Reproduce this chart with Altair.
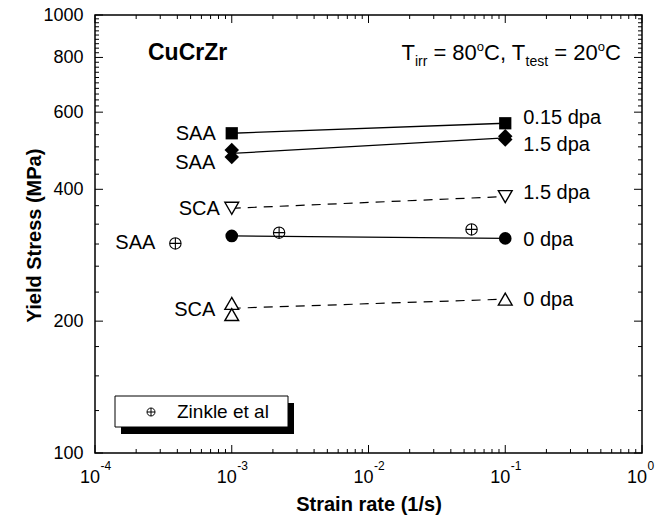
import altair as alt
import pandas as pd

# ---------------- data ----------------
sq_rate = [1e-3, 1e-1]
sq_stress = [537, 566]                      # SAA 0.15 dpa (filled squares)
dia_rate = [1e-3, 1e-3, 1e-1, 1e-1]
dia_stress = [492, 474, 529, 520]           # SAA 1.5 dpa (filled diamonds)
dtri_rate = [1e-3, 1e-1]
dtri_stress = [362, 385]                    # SCA 1.5 dpa (open down triangles)
circ_rate = [1e-3, 1e-1]
circ_stress = [313, 309]                    # SAA 0 dpa (filled circles)
utri_rate = [1e-3, 1e-3, 1e-1]
utri_stress = [219.5, 207, 224.5]           # SCA 0 dpa (open up triangles)
zink_rate = [3.87e-4, 2.22e-3, 5.67e-2]
zink_stress = [301, 318.5, 324]             # Zinkle et al (circle-plus)

solid_series = ["sq", "sq", "dia", "dia", "circ", "circ"]
solid_rate = [1e-3, 1e-1, 1e-3, 1e-1, 1e-3, 1e-1]
solid_stress = [537, 566, 483, 524, 313, 309]
dash_series = ["dtri", "dtri", "utri", "utri"]
dash_rate = [1e-3, 1e-1, 1e-3, 1e-1]
dash_stress = [362, 385, 214, 224.5]

left_labels = ["SAA", "SAA", "SCA", "SAA", "SCA"]
left_label_rate = [1e-3, 1e-3, 1e-3, 3.87e-4, 1e-3]
left_label_stress = [535, 460, 360, 301, 212]
right_labels = ["0.15 dpa", "1.5 dpa", "1.5 dpa", "0 dpa", "0 dpa"]
right_label_rate = [1e-1, 1e-1, 1e-1, 1e-1, 1e-1]
right_label_stress = [581, 505, 392, 306, 224]

x_decades = [1e-4, 1e-3, 1e-2, 1e-1, 1.0]
x_exponents = ["-4", "-3", "-2", "-1", "0"]
x_minor = [m * d for d in [1e-4, 1e-3, 1e-2, 1e-1] for m in range(2, 10)]
y_major = [100, 200, 400, 600, 800, 1000]
y_minor = [125, 150, 175, 233, 267, 300, 333, 367, 433, 467, 500, 533, 567,
           620, 640, 660, 680, 700, 720, 740, 760, 780,
           820, 840, 860, 880, 900, 920, 940, 960, 980]

# ---------------- layout ----------------
W, H = 547, 438
FONT = "Liberation Sans"

xs = alt.Scale(type="log", domain=[1e-4, 1], nice=False)
ys = alt.Scale(type="log", domain=[100, 1000], nice=False)
xaxis = alt.Axis(title="Strain rate (1/s)", labels=False, ticks=False, domain=False,
                 grid=False, titleFontSize=20, titleFont=FONT, titleFontWeight="bold",
                 titleColor="black", titleX=W / 2, titleY=57, titleBaseline="alphabetic",
                 titleAlign="center")
yaxis = alt.Axis(title="Yield Stress (MPa)", values=y_major, format="d", ticks=False,
                 domain=False, grid=False, labelFontSize=18, labelFont=FONT,
                 labelColor="black", labelPadding=12, labelFlush=False, labelOverlap=False,
                 titleFontSize=20, titleFont=FONT, titleFontWeight="bold", titleColor="black",
                 titleX=-55, titleY=H / 2 + 1, titleAngle=270, titleBaseline="alphabetic",
                 titleAlign="center")
X = alt.X("rate:Q", scale=xs, axis=xaxis)
Y = alt.Y("stress:Q", scale=ys, axis=yaxis)


def df(**cols):
    return pd.DataFrame(cols)


layers = []

# connecting lines
layers.append(alt.Chart(df(rate=solid_rate, stress=solid_stress, s=solid_series))
              .mark_line(color="black", strokeWidth=1.3)
              .encode(x=X, y=Y, detail="s:N"))
layers.append(alt.Chart(df(rate=dash_rate, stress=dash_stress, s=dash_series))
              .mark_line(color="black", strokeWidth=1.2, strokeDash=[9, 7])
              .encode(x=X, y=Y, detail="s:N"))

# markers
layers.append(alt.Chart(df(rate=sq_rate, stress=sq_stress))
              .mark_point(shape="square", filled=True, color="black", size=150, opacity=1)
              .encode(x=X, y=Y))
layers.append(alt.Chart(df(rate=dia_rate, stress=dia_stress))
              .mark_point(shape="diamond", filled=True, color="black", size=210, opacity=1)
              .encode(x=X, y=Y))
layers.append(alt.Chart(df(rate=circ_rate, stress=circ_stress))
              .mark_point(shape="circle", filled=True, color="black", size=160, opacity=1)
              .encode(x=X, y=Y))
layers.append(alt.Chart(df(rate=dtri_rate, stress=dtri_stress))
              .mark_point(shape="triangle-down", filled=True, fill="white", stroke="black",
                          strokeWidth=1.4, size=190, opacity=1)
              .encode(x=X, y=Y))
layers.append(alt.Chart(df(rate=utri_rate, stress=utri_stress))
              .mark_point(shape="triangle-up", filled=True, fill="white", stroke="black",
                          strokeWidth=1.4, size=190, opacity=1)
              .encode(x=X, y=Y))
OPLUS = "M-1,0A1,1,0,1,1,1,0A1,1,0,1,1,-1,0ZM-1,0L1,0M0,-1L0,1"
layers.append(alt.Chart(df(rate=zink_rate, stress=zink_stress))
              .mark_point(shape=OPLUS, filled=False, stroke="black", strokeWidth=1.1,
                          size=130, opacity=1)
              .encode(x=X, y=Y))

# data labels
left_dx = [-16, -16.5, -12, -20, -16.5]
for r, s, t, dx in zip(left_label_rate, left_label_stress, left_labels, left_dx):
    layers.append(alt.Chart(df(rate=[r], stress=[s], t=[t]))
                  .mark_text(align="right", baseline="middle", fontSize=20, font=FONT,
                             color="black", dx=dx)
                  .encode(x=X, y=Y, text="t:N"))
layers.append(alt.Chart(df(rate=right_label_rate, stress=right_label_stress, t=right_labels))
              .mark_text(align="left", baseline="middle", fontSize=20, font=FONT,
                         color="black", dx=18)
              .encode(x=X, y=Y, text="t:N"))


# axis ticks (inward) on all four sides
def xticks(vals, length):
    d = df(rate=vals)
    return [
        alt.Chart(d).mark_rule(color="black", strokeWidth=1)
        .encode(x=X, y=alt.value(H), y2=alt.value(H - length)),
        alt.Chart(d).mark_rule(color="black", strokeWidth=1)
        .encode(x=X, y=alt.value(0), y2=alt.value(length)),
    ]


def yticks(vals, length):
    d = df(stress=vals)
    return [
        alt.Chart(d).mark_rule(color="black", strokeWidth=1)
        .encode(y=Y, x=alt.value(0), x2=alt.value(length)),
        alt.Chart(d).mark_rule(color="black", strokeWidth=1)
        .encode(y=Y, x=alt.value(W), x2=alt.value(W - length)),
    ]


layers += xticks(x_decades, 8) + xticks(x_minor, 4)
layers += yticks(y_major, 8) + yticks(y_minor, 4)

# x tick labels: "10" with superscript exponent
layers.append(alt.Chart(df(rate=x_decades, e=x_exponents))
              .mark_text(align="right", baseline="alphabetic", fontSize=18, font=FONT,
                         color="black", dx=5)
              .encode(x=X, y=alt.value(H + 30), text=alt.value("10")))
layers.append(alt.Chart(df(rate=x_decades, e=x_exponents))
              .mark_text(align="left", baseline="alphabetic", fontSize=12, font=FONT,
                         color="black", dx=5.5)
              .encode(x=X, y=alt.value(H + 17), text="e:N"))


# annotations
def note(text, x, y, size, weight="normal", align="left"):
    return (alt.Chart(alt.Data(values=[{}]))
            .mark_text(align=align, baseline="alphabetic", fontSize=size, font=FONT,
                       fontWeight=weight, color="black")
            .encode(x=alt.value(x), y=alt.value(y), text=alt.value(text)))


BASE = 45
layers.append(note("CuCrZr", 53, BASE, 23, "bold"))
pieces = [("T", 306.5, BASE, 22), ("irr", 319.9, BASE + 6, 14), ("= 80", 338.4, BASE, 22),
          ("o", 381.8, BASE - 9.5, 13), ("C, T", 389.0, BASE, 22), ("test", 430.6, BASE + 6, 14),
          ("= 20", 459.3, BASE, 22), ("o", 502.7, BASE - 9.5, 13), ("C", 509.9, BASE, 22)]
for t, x, y, s in pieces:
    layers.append(note(t, x, y, s))

# legend box with drop shadow
layers.append(alt.Chart(alt.Data(values=[{}])).mark_rect(color="black")
              .encode(x=alt.value(26), x2=alt.value(199), y=alt.value(388), y2=alt.value(419)))
layers.append(alt.Chart(alt.Data(values=[{}])).mark_rect(fill="white", stroke="black", strokeWidth=1)
              .encode(x=alt.value(20), x2=alt.value(193), y=alt.value(381), y2=alt.value(412)))
layers.append(alt.Chart(alt.Data(values=[{}]))
              .mark_point(shape=OPLUS, filled=False, stroke="black", strokeWidth=1, size=64, opacity=1)
              .encode(x=alt.value(56), y=alt.value(397)))
layers.append(alt.Chart(alt.Data(values=[{}]))
              .mark_text(align="left", baseline="middle", fontSize=19, font=FONT, color="black")
              .encode(x=alt.value(82), y=alt.value(397), text=alt.value("Zinkle et al")))

chart = (alt.layer(*layers)
         .properties(width=W, height=H, autosize=alt.AutoSizeParams(type="none"),
                     padding={"left": 95, "top": 15, "right": 16, "bottom": 62},
                     background="white")
         .configure_view(stroke="black", strokeWidth=1.5)
         .configure_axis(labelFont=FONT, titleFont=FONT))

chart.save("out.html", embed_options={"renderer": "svg", "actions": False})
